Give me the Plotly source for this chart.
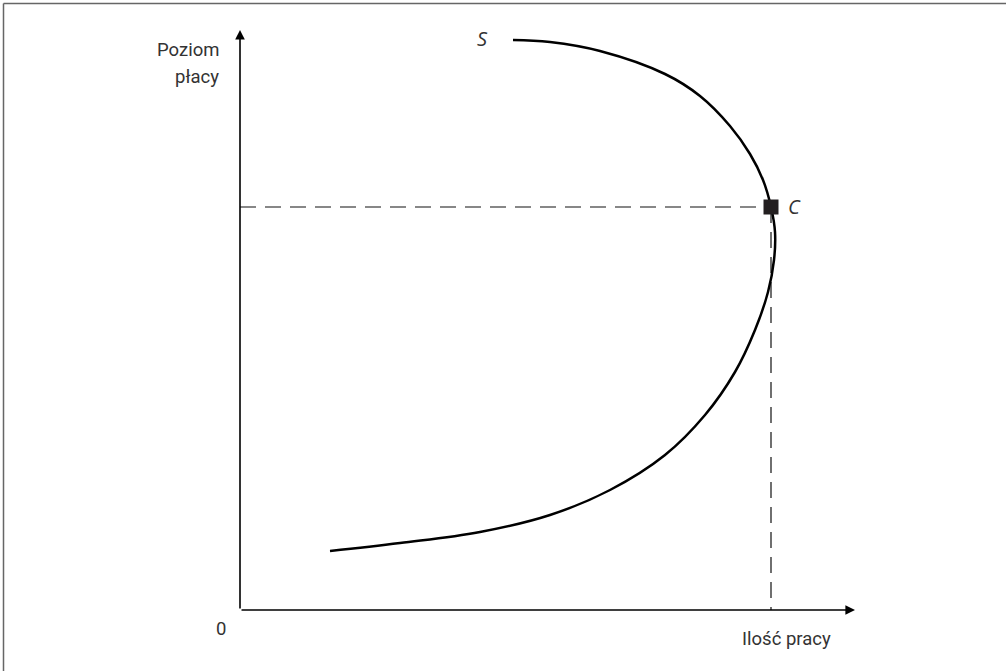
import plotly.graph_objects as go

# Backward-bending labour supply curve (arbitrary units)
labour = [9, 16, 24, 31, 37, 42.5, 46.5, 49.5, 51.5, 52.8, 53.4, 53.5, 53.1, 52.3, 51.0, 49.0, 46.0, 42.5, 36.0, 31.0, 27.3]
wage = [5.9, 6.7, 7.8, 9.5, 12, 15.5, 19.5, 23.8, 28, 31.8, 35, 37.8, 40.3, 43, 45.6, 48.4, 51.4, 53.6, 55.9, 56.8, 57]
point_c = (53.1, 40.3)
x_axis_end = 61.5
y_axis_end = 58
y_label_lines = ["Poziom", "płacy"]
x_label = "Ilość pracy"

W, H = 1006, 671
fig = go.Figure()

# dashed guide lines
fig.add_trace(go.Scatter(x=[0, point_c[0]], y=[point_c[1], point_c[1]], mode="lines",
                         line=dict(color="#111", width=1.2, dash="16px,9px"), hoverinfo="skip"))
fig.add_trace(go.Scatter(x=[point_c[0], point_c[0]], y=[point_c[1], 0], mode="lines",
                         line=dict(color="#111", width=1.2, dash="16px,9px"), hoverinfo="skip"))

# supply curve
fig.add_trace(go.Scatter(x=labour, y=wage, mode="lines",
                         line=dict(color="black", width=2.5, shape="spline", smoothing=1.1),
                         hoverinfo="skip"))

# point C
fig.add_trace(go.Scatter(x=[point_c[0]], y=[point_c[1]], mode="markers",
                         marker=dict(symbol="square", size=15, color="#231f20"), hoverinfo="skip"))

font = dict(family="Roboto, Liberation Sans, Arial", size=18.5, color="#333")
ifont = dict(family="Open Sans, Liberation Sans", size=20, color="#333")
ann = []
# axes with arrows
ann.append(dict(x=0, y=y_axis_end, ax=0, ay=0, xref="x", yref="y", axref="x", ayref="y",
                showarrow=True, arrowhead=2, arrowsize=1.2, arrowwidth=1.6, arrowcolor="black", text=""))
ann.append(dict(x=x_axis_end, y=0, ax=0, ay=0, xref="x", yref="y", axref="x", ayref="y",
                showarrow=True, arrowhead=2, arrowsize=1.2, arrowwidth=1.6, arrowcolor="black", text=""))
for i, line in enumerate(y_label_lines):
    ann.append(dict(x=-1.9, y=56.0 - 2.7 * i, xref="x", yref="y", text=line, showarrow=False,
                    xanchor="right", yanchor="middle", align="right", font=font))
ann.append(dict(x=-1.2, y=-0.6, xref="x", yref="y", text="0", showarrow=False,
                xanchor="right", yanchor="top", font=font))
ann.append(dict(x=50.0, y=-1.6, xref="x", yref="y", text=x_label, showarrow=False,
                xanchor="left", yanchor="top", font=font))
ann.append(dict(x=54.6, y=point_c[1] + 0.1, xref="x", yref="y", text="<i>C</i>", showarrow=False,
                xanchor="left", yanchor="middle", font=ifont))
ann.append(dict(x=25.0, y=57.2, xref="x", yref="y", text="<i>S</i>", showarrow=False,
                xanchor="right", yanchor="middle", font=ifont))

bx, by = 3.5 / W, 1 - 3.5 / H
fig.update_layout(
    width=W, height=H,
    margin=dict(l=0, r=0, t=0, b=0),
    paper_bgcolor="white", plot_bgcolor="white",
    showlegend=False,
    annotations=ann,
    xaxis=dict(range=[-24, -24 + W / 10], visible=False, fixedrange=True),
    yaxis=dict(range=[61 - H / 10, 61], visible=False, fixedrange=True),
    shapes=[
        dict(type="line", xref="paper", yref="paper", x0=bx, x1=1, y0=by, y1=by,
             line=dict(color="#666", width=1.5)),
        dict(type="line", xref="paper", yref="paper", x0=bx, x1=bx, y0=0, y1=by,
             line=dict(color="#666", width=1.5)),
    ],
)

fig.write_html("out.html", config={"displayModeBar": False},
               post_script="document.body.style.margin='0';document.body.style.overflow='hidden';")
